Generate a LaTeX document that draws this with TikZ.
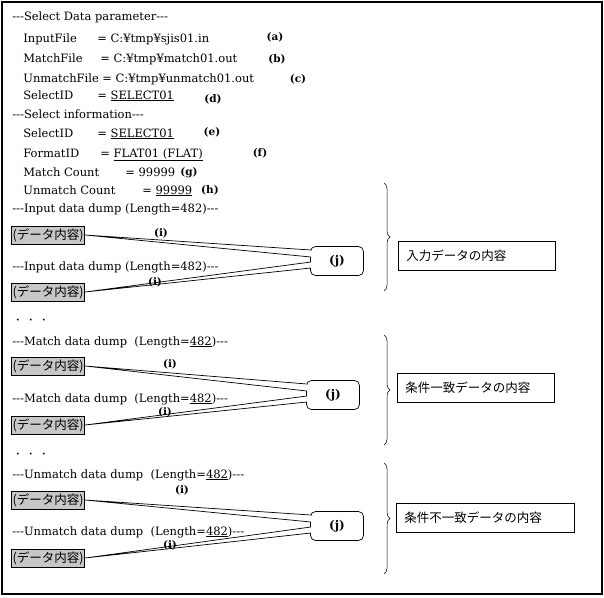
\documentclass[tikz,border=0pt]{standalone}
\usepackage{fontspec}
\setmainfont{DejaVu Serif}
\newfontfamily\jpfont{Noto Sans CJK JP}
\usetikzlibrary{calc,decorations.pathreplacing}
\newcommand{\dsh}{-\kern0pt-\kern0pt-}
\tikzset{
  dumpline/.style={anchor=base west, inner sep=0pt, font=\fontsize{11.5}{13}\selectfont},
  tag/.style={inner sep=0pt, font=\fontsize{10.5}{12}\selectfont\bfseries},
  datbox/.style={draw, fill=black!22, anchor=west, inner sep=1.2pt,
    minimum height=18pt, font=\jpfont\fontsize{12.5}{14}\selectfont},
  callout/.style={draw, fill=white, rounded corners=5pt, minimum width=53pt,
    minimum height=29pt, font=\fontsize{12}{14}\selectfont\bfseries},
  descbox/.style={draw, anchor=west, align=left, inner xsep=8pt,
    minimum height=29pt, font=\jpfont\fontsize{12.5}{14}\selectfont},
  dotrow/.style={anchor=west, inner sep=0pt, font=\jpfont\fontsize{9}{10}\selectfont},
  grpbrace/.style={decorate, decoration={brace, amplitude=6pt}},
}

\begin{document}
\begin{tikzpicture}[x=1pt, y=-1pt, line width=0.7pt]
  \useasboundingbox (0,0) rectangle (604,597);
  \draw[line width=1.2pt] (2,2) rectangle (602,594);

  \node (d1) [datbox] at (11,235) {(データ内容)};
  \node (d2) [datbox] at (11,292) {(データ内容)};
  \node (d3) [datbox] at (11,366) {(データ内容)};
  \node (d4) [datbox] at (11,425) {(データ内容)};
  \node (d5) [datbox] at (11,500) {(データ内容)};
  \node (d6) [datbox] at (11,558) {(データ内容)};
  \node (j1) [callout] at (337,261) {(j)};
  \node (j2) [callout] at (333,395) {(j)};
  \node (j3) [callout] at (337,526) {(j)};
  \foreach \d/\j/\a/\b in {d1/j1/11/4, d2/j1/-1/-7, d3/j2/11/4, d4/j2/-1/-7, d5/j3/11/4, d6/j3/-1/-7}{
    \fill[white] (\d.east) -- ([xshift=0.7pt,yshift=\a pt]\j.west) -- ([xshift=0.7pt,yshift=\b pt]\j.west) -- cycle;
    \draw ([xshift=0.7pt,yshift=\a pt]\j.west) -- (\d.east) -- ([xshift=0.7pt,yshift=\b pt]\j.west);
  }

  \node (s1) [dumpline] at (12,20) {\dsh Select Data parameter\dsh};
  \node (k1) [dumpline] at (23,42) {InputFile};
  \node (v1) [dumpline] at (97,42) {= C:¥tmp¥sjis01.in};
  \node (k2) [dumpline] at (23,62) {MatchFile};
  \node (v2) [dumpline] at (100,62) {= C:¥tmp¥match01.out};
  \node (k3) [dumpline] at (23,82) {UnmatchFile};
  \node (v3) [dumpline] at (102,82) {= C:¥tmp¥unmatch01.out};
  \node (k4) [dumpline] at (23,99) {SelectID};
  \node (v4) [dumpline] at (97,99) {= \underline{SELECT01}};
  \node (s2) [dumpline] at (12,118) {\dsh Select information\dsh};
  \node (k5) [dumpline] at (23,137) {SelectID};
  \node (v5) [dumpline] at (97,137) {= \underline{SELECT01}};
  \node (k6) [dumpline] at (23,157) {FormatID};
  \node (v6) [dumpline] at (100,157) {= \underline{FLAT01 (FLAT)}};
  \node (k7) [dumpline] at (23,176) {Match Count};
  \node (v7) [dumpline] at (125,176) {= 99999};
  \node (k8) [dumpline] at (23,194) {Unmatch Count};
  \node (v8) [dumpline] at (142,194) {= \underline{99999}};

  \node (t1) [dumpline] at (12,212) {\dsh Input data dump (Length=482)\dsh};
  \node (t2) [dumpline] at (12,270) {\dsh Input data dump (Length=482)\dsh};
  \node (dots1) [dotrow] at (13,321) {・\hspace{4pt}・\hspace{4pt}・};
  \node (t3) [dumpline] at (12,345) {\dsh Match data dump\ \ (Length=\underline{482})\dsh};
  \node (t4) [dumpline] at (12,402) {\dsh Match data dump\ \ (Length=\underline{482})\dsh};
  \node (dots2) [dotrow] at (13,455) {・\hspace{4pt}・\hspace{4pt}・};
  \node (t5) [dumpline] at (12,478) {\dsh Unmatch data dump\ \ (Length=\underline{482})\dsh};
  \node (t6) [dumpline] at (12,535) {\dsh Unmatch data dump\ \ (Length=\underline{482})\dsh};

  \node (ta) [tag] at (275,37) {(a)};
  \node (tb) [tag] at (277,59) {(b)};
  \node (tc) [tag] at (298,79) {(c)};
  \node (td) [tag] at (213,99) {(d)};
  \node (te) [tag] at (212,132) {(e)};
  \node (tf) [tag] at (260,153) {(f)};
  \node (tg) [tag] at (189,173) {(g)};
  \node (th) [tag] at (210,190) {(h)};
  \node (i1) [tag] at (161,233) {(i)};
  \node (i2) [tag] at (155,282) {(i)};
  \node (i3) [tag] at (170,364) {(i)};
  \node (i4) [tag] at (165,412) {(i)};
  \node (i5) [tag] at (182,490) {(i)};
  \node (i6) [tag] at (170,545) {(i)};

  \draw[grpbrace, line width=0.5pt] (384,183) -- (384,291);
  \draw[grpbrace, line width=0.5pt] (384,335) -- (384,445);
  \draw[grpbrace, line width=0.5pt] (384,463) -- (384,574);
  \node (g1) [descbox, text width=141pt] at (398,256) {入力データの内容};
  \node (g2) [descbox, text width=141pt] at (397,388) {条件一致データの内容};
  \node (g3) [descbox, text width=162pt] at (396,518) {条件不一致データの内容};
\end{tikzpicture}
\end{document}
